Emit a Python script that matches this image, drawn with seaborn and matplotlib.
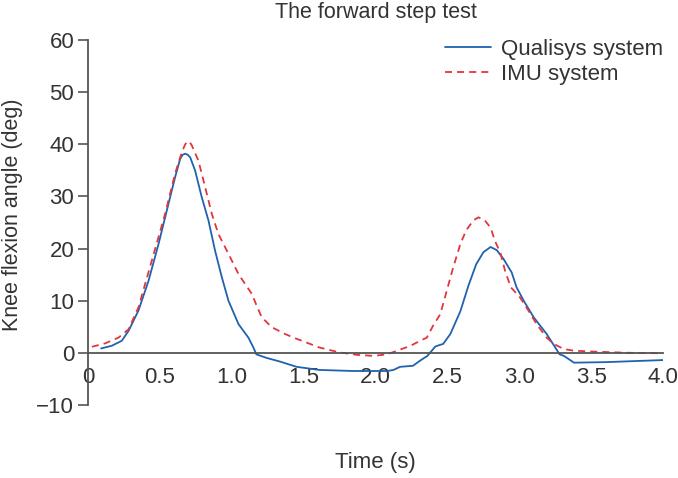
import matplotlib
matplotlib.use("Agg")
import matplotlib.pyplot as plt
import pandas as pd
import seaborn as sns

# values
qualisys_t = [0.09, 0.165, 0.234, 0.281, 0.35, 0.42, 0.49, 0.559, 0.605, 0.64, 0.657,
              0.675, 0.693, 0.71, 0.744, 0.79, 0.837, 0.883, 0.93, 0.976, 1.046, 1.115,
              1.15, 1.17, 1.243, 1.336, 1.45, 1.61, 1.846, 2.08, 2.124, 2.17, 2.26,
              2.31, 2.36, 2.414, 2.425, 2.47, 2.52, 2.59, 2.646, 2.70, 2.75, 2.80,
              2.843, 2.89, 2.947, 2.98, 3.03, 3.10, 3.19, 3.28, 3.31, 3.38, 3.60,
              3.80, 4.0]
qualisys_v = [0.83, 1.35, 2.3, 4.2, 8.1, 13.8, 20.9, 28.6, 33.7, 37.2, 38.0,
              38.2, 38.0, 37.5, 35.0, 29.9, 25.4, 19.6, 14.5, 10.0, 5.5, 2.9,
              1.0, -0.3, -1.0, -1.7, -2.7, -3.3, -3.5, -3.5, -3.3, -2.7, -2.5,
              -1.5, -0.6, 1.15, 1.3, 1.7, 3.6, 8.0, 12.9, 17.0, 19.3, 20.3,
              19.7, 18.0, 15.4, 12.6, 10.0, 6.8, 3.6, -0.3, -0.6, -1.9, -1.8,
              -1.6, -1.4]

imu_t = [0.026, 0.118, 0.211, 0.281, 0.35, 0.443, 0.536, 0.605, 0.652, 0.675, 0.693,
         0.708, 0.721, 0.767, 0.814, 0.86, 0.906, 0.976, 1.046, 1.092, 1.139, 1.173,
         1.208, 1.278, 1.37, 1.43, 1.61, 1.75, 1.87, 1.985, 2.08, 2.15, 2.24, 2.31,
         2.356, 2.40, 2.45, 2.495, 2.54, 2.59, 2.63, 2.68, 2.715, 2.76, 2.80, 2.83,
         2.87, 2.90, 2.94, 3.005, 3.063, 3.12, 3.19, 3.24, 3.31, 3.38, 3.49, 3.75,
         4.0]
imu_v = [1.15, 1.8, 2.9, 4.5, 8.7, 17.7, 26.7, 34.4, 38.5, 40.0, 40.6,
         40.4, 39.8, 36.9, 31.8, 26.7, 22.8, 19.0, 15.1, 13.2, 11.3, 9.0,
         6.8, 4.9, 3.6, 2.9, 1.0, 0.06, -0.4, -0.6, -0.3, 0.4, 1.3, 2.3,
         2.9, 5.2, 7.4, 11.9, 16.4, 20.9, 23.5, 25.4, 26.0, 25.4, 24.0, 21.5,
         19.0, 15.8, 12.6, 10.6, 8.1, 5.5, 2.9, 1.7, 0.7, 0.4, 0.25, 0.0,
         -0.1]

x_ticks = [0, 0.5, 1.0, 1.5, 2.0, 2.5, 3.0, 3.5, 4.0]
x_tick_labels = ["0", "0.5", "1.0", "1.5", "2.0", "2.5", "3.0", "3.5", "4.0"]
y_ticks = [-10, 0, 10, 20, 30, 40, 50, 60]
y_tick_labels = ["\u221210", "0", "10", "20", "30", "40", "50", "60"]

df = pd.concat([
    pd.DataFrame({"t": qualisys_t, "v": qualisys_v, "system": "Qualisys system"}),
    pd.DataFrame({"t": imu_t, "v": imu_v, "system": "IMU system"}),
])

sns.set_style("white")
plt.rcParams["font.family"] = ["Liberation Sans", "DejaVu Sans"]

fig = plt.figure(figsize=(6.78, 4.78), dpi=100)
ax = fig.add_axes([0.13, 0.153, 0.848, 0.763])

sns.lineplot(data=df, x="t", y="v", hue="system", style="system",
             palette={"Qualisys system": "#1f62ad", "IMU system": "#e0363c"},
             dashes={"Qualisys system": "", "IMU system": (3.9, 2.8)},
             linewidth=1.3, sort=False, estimator=None, ax=ax)

ax.set_xlim(0, 4.0)
ax.set_ylim(-10, 60)
ax.set_xticks(x_ticks)
ax.set_xticklabels(x_tick_labels)
ax.set_yticks(y_ticks)
ax.set_yticklabels(y_tick_labels)

for side in ["top", "right"]:
    ax.spines[side].set_visible(False)
ax.spines["bottom"].set_position(("data", 0))
for side in ["left", "bottom"]:
    ax.spines[side].set_color("#555555")
    ax.spines[side].set_linewidth(1.3)

ax.tick_params(axis="x", direction="in", length=7, width=1.2, color="#555555",
               labelsize=16, labelcolor="#333333", pad=10)
ax.tick_params(axis="y", direction="out", length=7, width=1.2, color="#555555",
               labelsize=16, labelcolor="#333333", pad=3, left=True)

ax.set_title("The forward step test", fontsize=15.5, color="#333333", pad=16)
ax.set_xlabel("Time (s)", fontsize=16, color="#333333", labelpad=46)
ax.set_ylabel("Knee flexion angle (deg)", fontsize=15.5, color="#333333")
ax.yaxis.set_label_coords(-0.113, 0.52)

leg = ax.legend(loc="upper right", frameon=False, fontsize=16, handlelength=2.05,
                handletextpad=0.45, borderpad=0, borderaxespad=0,
                labelspacing=0.2, bbox_to_anchor=(1.0, 1.004))
for text in leg.get_texts():
    text.set_color("#333333")
for line in leg.get_lines():
    line.set_linewidth(1.3)

fig.savefig("out.png", dpi=100)
